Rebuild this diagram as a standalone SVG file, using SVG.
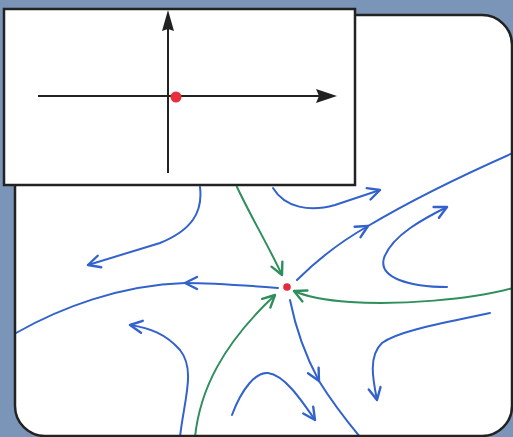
<svg xmlns="http://www.w3.org/2000/svg" width="513" height="437" viewBox="0 0 513 437">
<defs>
<style>
.b{fill:none;stroke:#3262cc;stroke-width:2;stroke-linecap:round}
.g{fill:none;stroke:#2f8f5c;stroke-width:2;stroke-linecap:round}
.ax{fill:none;stroke:#222;stroke-width:2}
.bm{marker-end:url(#ab)}
.gm{marker-end:url(#ag)}
</style>
<marker id="ab" markerUnits="userSpaceOnUse" viewBox="-14 -8 16 16" refX="0" refY="0" markerWidth="16" markerHeight="16" orient="auto">
<path d="M-12,-6 L0,0 L-12,6" fill="none" stroke="#3262cc" stroke-width="2.4" stroke-linecap="round" stroke-linejoin="round"/>
</marker>
<marker id="ag" markerUnits="userSpaceOnUse" viewBox="-14 -8 16 16" refX="0" refY="0" markerWidth="16" markerHeight="16" orient="auto">
<path d="M-12,-6 L0,0 L-12,6" fill="none" stroke="#2f8f5c" stroke-width="2.4" stroke-linecap="round" stroke-linejoin="round"/>
</marker>
</defs>
<rect x="0" y="0" width="513" height="437" fill="#7a95b8"/>
<rect id="panel" x="15" y="15" width="497" height="421" rx="30" fill="#fff"/>
<g id="connectors">
<path class="b bm" d="M200,187 C203,212 192,230 160,243 L88,265"/>
<path class="b bm" d="M273,188 C285,208 310,212 335,205 L380,190"/>
<path class="b bm" d="M297,280 C315,262 340,242 368,226"/>
<path class="b" d="M368,226 C420,195 470,172 513,153"/>
<path class="b bm" d="M447,287 C410,287 378,278 384,258 C392,235 425,218 447,207"/>
<path class="b bm" d="M278,288 C240,285 210,283 185,283"/>
<path class="b" d="M185,283 C120,285 60,308 16,333"/>
<path class="b bm" d="M180,437 C184,400 196,370 180,350 C166,334 150,328 130,325"/>
<path class="b bm" d="M232,415 C242,388 256,372 268,373 C284,375 300,398 315,420"/>
<path class="b bm" d="M290,300 C296,330 305,355 319,381"/>
<path class="b" d="M319,381 C332,402 346,420 360,437"/>
<path class="b bm" d="M490,313 C450,322 400,330 382,343 C368,356 373,380 377,400"/>
<path class="g gm" d="M237,187 C250,215 268,245 282,275"/>
<path class="g gm" d="M513,288 C470,300 400,305 350,302 C320,300 305,296 294,291"/>
<path class="g gm" d="M195,437 C200,390 222,345 275,295"/>
</g>
<g id="fixed-point">
<circle cx="287" cy="287" r="3.8" fill="#e8283c"/>
</g>
<rect x="15" y="15" width="497" height="421" rx="30" fill="none" stroke="#222" stroke-width="2.5"/>
<g id="inset">
<rect x="4" y="9" width="351" height="176" fill="#fff" stroke="#222" stroke-width="2.5"/>
<path class="ax" d="M168,28 L168,173"/>
<path d="M168,10 L174,31 L168,29 L162,31 Z" fill="#222"/>
<path class="ax" d="M38,96 L320,96"/>
<path d="M337,96 L316,103 L319,96 L316,89 Z" fill="#222"/>
<circle cx="176" cy="97" r="5.5" fill="#e8303c"/>
</g>
</svg>
